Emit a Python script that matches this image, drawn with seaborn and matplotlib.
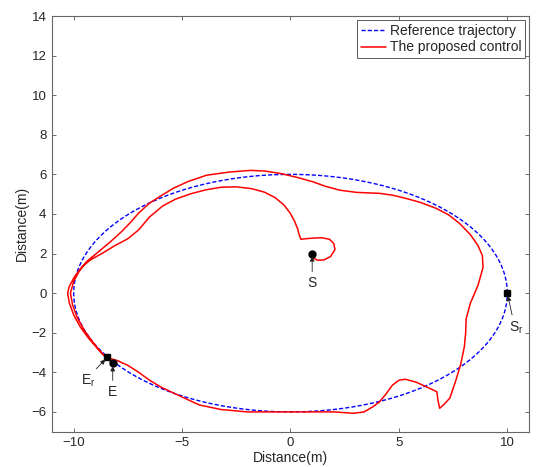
import numpy as np
import pandas as pd
import matplotlib
matplotlib.use("Agg")
import matplotlib.pyplot as plt
import seaborn as sns

# Reference ellipse (centre and semi-axes)
ref_center = (0.0, 0.0)
ref_a = 10.0
ref_b = 6.0

# Proposed control trajectory
ctrl_x = [1.0, 1.05, 1.25, 1.55, 1.85, 2.05, 2.0, 1.8, 1.45, 1.05, 0.7, 0.48, 0.4, 0.33, 0.18,
          -0.02, -0.3, -0.7, -1.2, -1.8, -2.5, -3.2, -3.9, -4.6, -5.3, -5.9, -6.5, -7.0, -7.5,
          -8.1, -8.7, -9.2, -9.6, -9.95, -10.2, -10.28, -10.2, -10.0, -9.7, -9.3, -8.9, -8.5,
          -8.0, -7.5, -7.0, -6.5, -6.0, -5.1, -4.2, -3.2, -2.0, -1.0, 0.0, 1.0, 2.0, 2.9, 3.4,
          3.8, 4.1, 4.4, 4.7, 5.0, 5.3, 5.8, 6.3, 6.75, 6.8, 6.88, 7.1, 7.35, 7.6, 7.85, 8.02,
          8.08, 8.1, 8.3, 8.65, 8.88, 8.85, 8.65, 8.3, 7.8, 7.3, 6.73, 6.0, 5.35, 4.7, 4.12,
          3.05, 2.28, 1.6, 1.05, 0.3, -0.48, -1.2, -1.86, -2.8, -3.86, -4.7, -5.4, -6.0, -6.5,
          -7.0, -7.4, -7.8, -8.3, -8.9, -9.4, -9.75, -10.0, -10.15, -10.05, -9.85, -9.5, -9.1,
          -8.7, -8.4, -8.2]
ctrl_y = [2.0, 1.78, 1.66, 1.68, 1.85, 2.2, 2.5, 2.72, 2.8, 2.78, 2.75, 2.72, 2.95, 3.25, 3.65,
          4.05, 4.45, 4.82, 5.1, 5.28, 5.37, 5.35, 5.22, 5.02, 4.75, 4.4, 3.85, 3.2, 2.75,
          2.4, 2.0, 1.7, 1.35, 0.85, 0.35, 0.0, -0.5, -1.1, -1.7, -2.3, -2.8, -3.25,
          -3.4, -3.65, -4.0, -4.4, -4.73, -5.2, -5.65, -5.88, -6.0, -6.0, -6.0, -6.0, -6.0, -6.07, -6.0,
          -5.74, -5.5, -5.1, -4.65, -4.4, -4.35, -4.5, -4.75, -4.98, -5.4, -5.82, -5.6, -5.3, -4.5, -3.6, -2.7,
          -2.0, -1.3, -0.5, 0.4, 1.3, 1.9, 2.4, 2.95, 3.52, 3.95, 4.28, 4.58, 4.78, 4.95, 5.04,
          5.09, 5.2, 5.4, 5.62, 5.85, 6.05, 6.17, 6.2, 6.12, 5.96, 5.65, 5.3, 4.9, 4.55,
          4.05, 3.55, 3.1, 2.6, 2.05, 1.6, 1.1, 0.6, 0.0, -0.6, -1.2, -1.9, -2.5,
          -3.05, -3.35, -3.55]

# Marked points
start_pt = (1.0, 2.0)
ref_start_pt = (10.0, 0.0)
end_pt = (-8.2, -3.55)
ref_end_pt = (-8.45, -3.25)

x_ticks = [-10, -5, 0, 5, 10]
y_ticks = [-6, -4, -2, 0, 2, 4, 6, 8, 10, 12, 14]

sns.set_style("white")
plt.rcParams['font.family'] = ['Liberation Sans', 'DejaVu Sans']
plt.rcParams['mathtext.fontset'] = 'custom'
plt.rcParams['mathtext.rm'] = 'Liberation Sans'

fig = plt.figure(figsize=(5.44, 4.67), dpi=100)
ax = fig.add_axes([0.0956, 0.0756, 0.8768, 0.8901])

t = np.linspace(0, 2 * np.pi, 400)
ref_df = pd.DataFrame({"x": ref_center[0] + ref_a * np.cos(t),
                       "y": ref_center[1] + ref_b * np.sin(t)})
ctrl_df = pd.DataFrame({"x": ctrl_x, "y": ctrl_y})

sns.lineplot(data=ref_df, x="x", y="y", sort=False, estimator=None, ax=ax,
             color="#0000ff", lw=1.0, dashes=False, label="Reference trajectory")
ax.lines[-1].set_dashes([3, 1.5])
sns.lineplot(data=ctrl_df, x="x", y="y", sort=False, estimator=None, ax=ax,
             color="#ff0000", lw=1.1, label="The proposed control")

ax.plot(*start_pt, 'o', color='k', ms=5)
ax.plot(*end_pt, 'o', color='k', ms=5)
ax.plot(*ref_start_pt, 's', color='k', ms=5)
ax.plot(*ref_end_pt, 's', color='k', ms=5)

arrow = dict(arrowstyle='-|>', lw=0.6, color='#222222', mutation_scale=7, shrinkA=1, shrinkB=2)
ax.annotate('S', xy=start_pt, xytext=(1.0, 0.5), ha='center', va='center', fontsize=10,
            arrowprops=dict(arrow, relpos=(0.5, 1.0)))
ax.annotate('S$_\\mathrm{r}$', xy=ref_start_pt, xytext=(10.4, -1.75), ha='center', va='center', fontsize=10,
            arrowprops=dict(arrow, relpos=(0.3, 1.0)))
ax.annotate('E$_\\mathrm{r}$', xy=ref_end_pt, xytext=(-9.35, -4.45), ha='center', va='center', fontsize=10,
            arrowprops=dict(arrow, relpos=(0.8, 1.0)))
ax.annotate('E', xy=end_pt, xytext=(-8.2, -5.0), ha='center', va='center', fontsize=10,
            arrowprops=dict(arrow, relpos=(0.5, 1.0)))

ax.set_xlim(-11, 11)
ax.set_ylim(-7, 14)
ax.set_xticks(x_ticks)
ax.set_yticks(y_ticks)
ax.tick_params(direction='in', length=3, width=0.6, color='#555555', labelsize=9.5,
               top=True, right=True, bottom=True, left=True, pad=4)
for s in ax.spines.values():
    s.set_color('#666666')
    s.set_linewidth(0.8)
ax.set_xlabel('Distance(m)', fontsize=10, labelpad=1)
ax.set_ylabel('Distance(m)', fontsize=10, labelpad=2)

leg = ax.legend(loc='upper right', fontsize=10, frameon=True, fancybox=False,
                edgecolor='#333333', borderaxespad=0.3, handlelength=1.8,
                handletextpad=0.3, borderpad=0.25, labelspacing=0.2)
leg.get_frame().set_linewidth(0.7)

fig.savefig('out.png', dpi=100)
